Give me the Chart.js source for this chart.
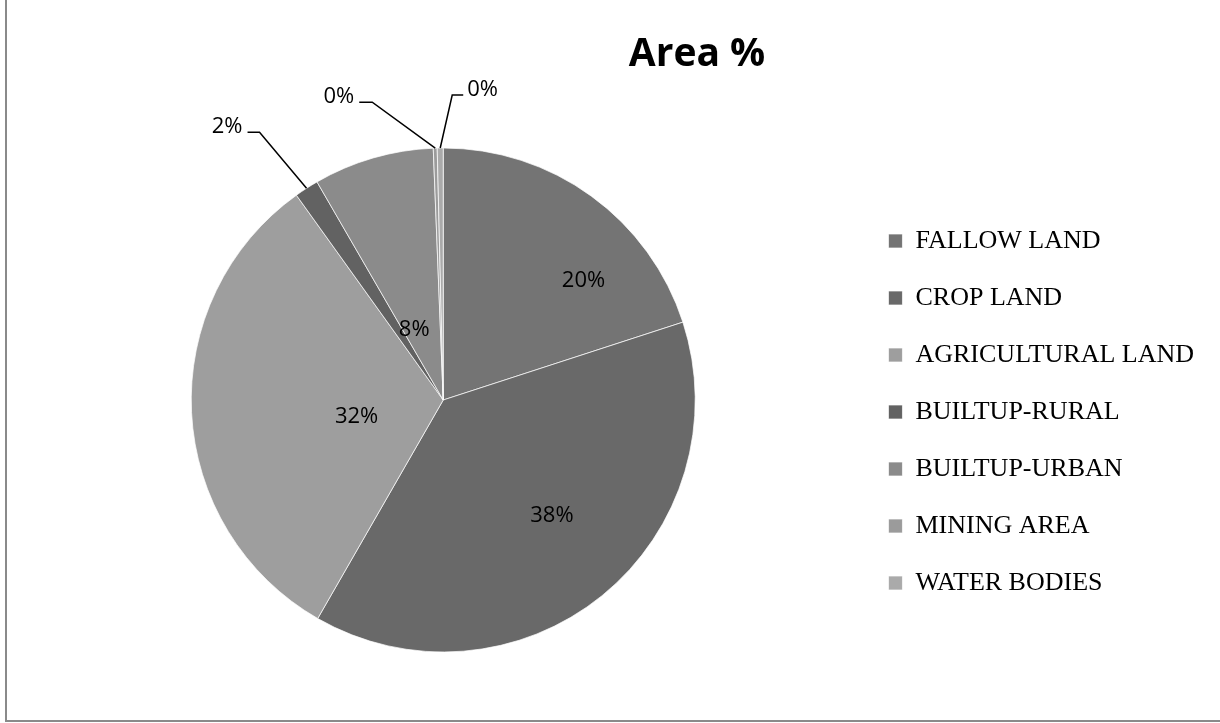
<!DOCTYPE html>
<html>
<head>
<meta charset="utf-8">
<title>Area %</title>
<script src="https://cdn.jsdelivr.net/npm/chart.js@4.4.1/dist/chart.umd.min.js"></script>
<style>
  html, body { margin: 0; padding: 0; background: #fff; }
  #wrap { position: relative; width: 1220px; height: 723px; }
</style>
</head>
<body>
<div id="wrap"><canvas id="areaChart" width="1220" height="723"></canvas></div>
<script>
const categories = ['FALLOW LAND', 'CROP LAND', 'AGRICULTURAL LAND', 'BUILTUP-RURAL', 'BUILTUP-URBAN', 'MINING AREA', 'WATER BODIES'];
const areaPct = [20.0, 38.3, 31.8, 1.55, 7.72, 0.25, 0.38];
const sliceColors = ['#747474', '#696969', '#9e9e9e', '#626262', '#8b8b8b', '#9b9b9b', '#aaaaaa'];
const chartTitle = 'Area %';

// label placement: inside slices -> [fraction of slice angle, fraction of radius]
// small slices get a callout -> [elbow dx, elbow dy, tail dx]
const labelInside = [[0.69, 0.73], [0.47, 0.63], [0.43, 0.35], null, [0.27, 0.30], null, null];
const labelCallout = [null, null, null, [-47, -56, -12], null, [-63, -46, -13], [12, -53, 11]];

const frameAndLabels = {
    id: 'frameAndLabels',
    beforeDraw(chart) {
        const c = chart.ctx;
        c.save();
        c.fillStyle = '#fff';
        c.fillRect(0, 0, chart.width, chart.height);
        c.fillStyle = '#8a8a8a';
        c.fillRect(5, 0, 2, 722);
        c.fillRect(5, 720, chart.width - 5, 2);
        c.restore();
    },
    afterDatasetsDraw(chart) {
        const c = chart.ctx;
        const arcs = chart.getDatasetMeta(0).data;
        const total = areaPct.reduce((a, b) => a + b, 0);
        c.save();
        c.font = '22px "Open Sans"';
        c.fillStyle = '#000';
        c.strokeStyle = '#000';
        c.lineWidth = 1.5;
        arcs.forEach((arc, i) => {
            const txt = Math.round(areaPct[i] / total * 100) + '%';
            const {x, y, startAngle, endAngle, outerRadius} = arc.getProps(['x', 'y', 'startAngle', 'endAngle', 'outerRadius'], true);
            if (labelInside[i]) {
                const [af, rf] = labelInside[i];
                const a = startAngle + (endAngle - startAngle) * af;
                c.textAlign = 'center';
                c.textBaseline = 'middle';
                c.fillText(txt, x + Math.cos(a) * outerRadius * rf, y + Math.sin(a) * outerRadius * rf);
            } else {
                const [ex, ey, tx] = labelCallout[i];
                const a = (startAngle + endAngle) / 2;
                const px = x + Math.cos(a) * outerRadius, py = y + Math.sin(a) * outerRadius;
                const qx = px + ex, qy = py + ey, hx = qx + tx;
                c.beginPath();
                c.moveTo(px, py);
                c.lineTo(qx, qy);
                c.lineTo(hx, qy);
                c.stroke();
                c.textBaseline = 'alphabetic';
                c.textAlign = tx < 0 ? 'right' : 'left';
                c.fillText(txt, hx + (tx < 0 ? -5 : 4), qy + 1);
            }
        });
        c.font = 'bold 39px "Open Sans"';
        c.textAlign = 'center';
        c.textBaseline = 'alphabetic';
        c.fillText(chartTitle, 697, 66);
        c.restore();
    }
};

new Chart(document.getElementById('areaChart'), {
    type: 'pie',
    data: {
        labels: categories,
        datasets: [{
            data: areaPct,
            backgroundColor: sliceColors,
            borderColor: 'rgba(255,255,255,0.7)',
            borderWidth: 1
        }]
    },
    options: {
        responsive: false,
        animation: false,
        radius: 252,
        layout: { padding: { left: 29, right: 16, top: 100, bottom: 23 } },
        plugins: {
            title: { display: false },
            tooltip: { enabled: false },
            legend: {
                position: 'right',
                title: { display: true, text: '', padding: 0, font: { size: 20, lineHeight: 1.2 } },
                labels: {
                    boxWidth: 14,
                    boxHeight: 14,
                    padding: 31,
                    color: '#000',
                    font: { family: '"Liberation Serif", "Times New Roman", serif', size: 26 }
                }
            }
        }
    },
    plugins: [frameAndLabels]
});
</script>
</body>
</html>
